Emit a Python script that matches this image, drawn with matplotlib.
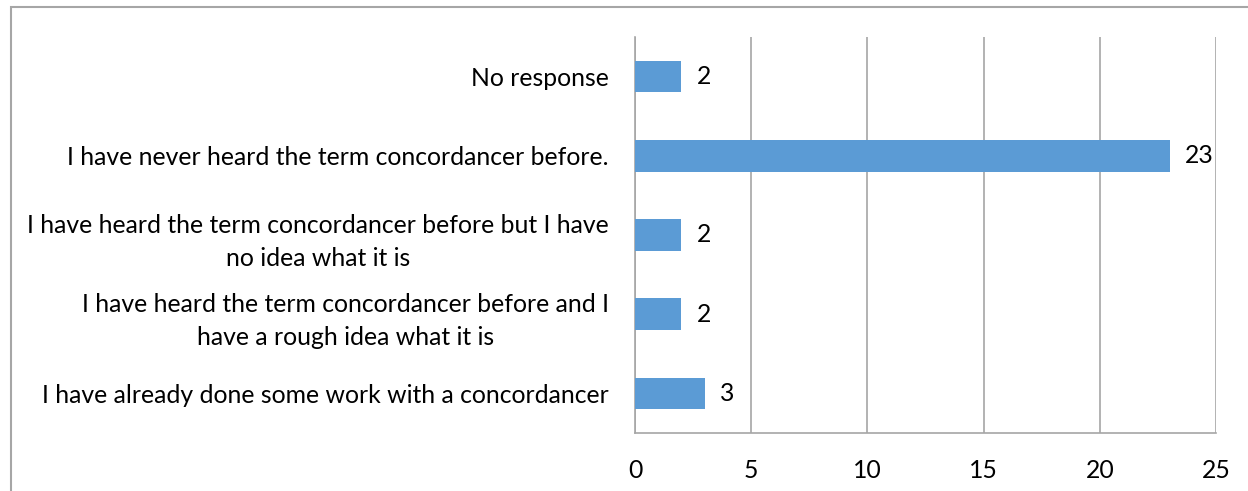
import matplotlib
matplotlib.use("Agg")
import matplotlib.pyplot as plt
from matplotlib.patches import Rectangle

categories = [
    "No response",
    "I have never heard the term concordancer before.",
    "I have heard the term concordancer before but I have\nno idea what it is",
    "I have heard the term concordancer before and I\nhave a rough idea what it is",
    "I have already done some work with a concordancer",
]
values = [2, 23, 2, 2, 3]
xticks = [0, 5, 10, 15, 20, 25]

plt.rcParams['font.family'] = ['Lato', 'DejaVu Sans']
FS = 17.8
W, H = 1248, 491
fig = plt.figure(figsize=(W / 100, H / 100), dpi=100)
ax = fig.add_axes([635 / W, 1 - 433 / H, (1216 - 635) / W, (433 - 37) / H])

# outer frame
fig.patches.append(Rectangle((11 / W, -0.05), 1.1, 1 - 7 / H + 0.05, transform=fig.transFigure,
                             fill=False, edgecolor='#A6A6A6', linewidth=1.5))

n = len(categories)
ypos = list(range(n))[::-1]
ax.barh(ypos, values, height=0.4, color='#5B9BD5', zorder=3)
for y, v in zip(ypos, values):
    ax.text(v + 0.65, y, str(v), va='center', ha='left', fontsize=FS, color='black')

ax.set_xlim(0, 25)
ax.set_ylim(-0.5, n - 0.5)
ax.set_xticks(xticks)
ax.set_xticklabels([str(t) for t in xticks])
ax.set_yticks(ypos)
ax.set_yticklabels(categories, multialignment='center', linespacing=1.5)
ax.tick_params(axis='x', length=0, pad=18.5, labelsize=FS)
ax.tick_params(axis='y', length=0, pad=19, labelsize=FS)
ax.grid(axis='x', color='#A6A6A6', linewidth=1.2, zorder=0)
for s in ['top', 'right']:
    ax.spines[s].set_visible(False)
for s in ['left', 'bottom']:
    ax.spines[s].set_color('#A6A6A6')
    ax.spines[s].set_linewidth(1.2)

fig.savefig('out.png', dpi=100)
